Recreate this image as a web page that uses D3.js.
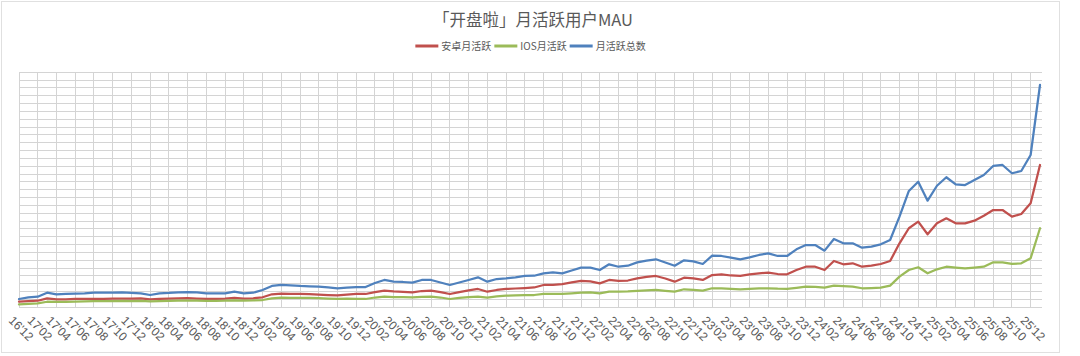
<!DOCTYPE html>
<html><head><meta charset="utf-8">
<script src="https://cdn.jsdelivr.net/npm/d3@7"></script>
<style>body{margin:0;background:#fff}</style>
</head><body><svg id="c" width="1080" height="356"></svg>
<script>
const categories = ["16'12",
"17'01","17'02","17'03","17'04","17'05","17'06","17'07","17'08","17'09","17'10","17'11","17'12",
"18'01","18'02","18'03","18'04","18'05","18'06","18'07","18'08","18'09","18'10","18'11","18'12",
"19'01","19'02","19'03","19'04","19'05","19'06","19'07","19'08","19'09","19'10","19'11","19'12",
"20'01","20'02","20'03","20'04","20'05","20'06","20'07","20'08","20'09","20'10","20'11","20'12",
"21'01","21'02","21'03","21'04","21'05","21'06","21'07","21'08","21'09","21'10","21'11","21'12",
"22'01","22'02","22'03","22'04","22'05","22'06","22'07","22'08","22'09","22'10","22'11","22'12",
"23'01","23'02","23'03","23'04","23'05","23'06","23'07","23'08","23'09","23'10","23'11","23'12",
"24'01","24'02","24'03","24'04","24'05","24'06","24'07","24'08","24'09","24'10","24'11","24'12",
"25'01","25'02","25'03","25'04","25'05","25'06","25'07","25'08","25'09","25'10","25'11","25'12",
"26'01"];

const tickLabels = ["16'12","17'02","17'04","17'06","17'08","17'10","17'12","18'02","18'04","18'06","18'08","18'10","18'12",
"19'02","19'04","19'06","19'08","19'10","19'12","20'02","20'04","20'06","20'08","20'10","20'12",
"21'02","21'04","21'06","21'08","21'10","21'12","22'02","22'04","22'06","22'08","22'10","22'12",
"23'02","23'04","23'06","23'08","23'10","23'12","24'02","24'04","24'06","24'08","24'10","24'12",
"25'02","25'04","25'06","25'08","25'10","25'12"];

const android = [7.1,
8.0,8.4,11.5,10.2,10.2,10.6,10.6,10.6,10.9,11.0,11.2,11.0,
11.5,10.2,10.9,11.2,11.5,11.6,11.2,10.6,10.9,11.0,11.9,11.0,
11.5,12.8,16.6,17.4,17.2,17.0,16.7,16.3,15.7,15.3,16.3,17.0,
17.0,19.5,21.2,20.2,19.8,19.1,20.8,21.2,19.5,17.0,19.5,21.7,
23.4,19.9,22.1,23.4,24.0,24.6,25.3,28.5,28.5,29.7,31.7,33.6,
33.2,30.6,34.9,33.6,34.2,36.8,38.7,40.0,36.8,32.7,37.8,37.0,
34.9,41.2,42.1,40.6,40.0,41.9,43.4,44.2,42.5,42.1,47.6,51.8,
51.8,47.6,59.1,54.9,56.2,51.8,53.1,55.3,59.1,81.7,100.9,109.3,
93.2,107.2,113.6,107.2,107.2,110.6,116.9,124.2,124.2,115.7,119.1,132.8,
181.7];

const ios = [3.8,
4.5,5.1,7.1,6.8,7.0,7.4,7.7,8.0,8.0,8.0,8.2,8.0,
8.3,7.7,8.0,8.3,8.4,8.6,8.4,8.2,8.3,8.4,8.8,8.4,
8.7,9.3,11.5,12.3,12.1,11.9,11.9,11.6,11.2,10.9,11.2,10.6,
10.6,12.5,13.5,13.1,12.9,12.8,13.4,13.5,12.5,10.6,11.9,13.1,
13.5,12.5,13.8,14.8,15.1,15.4,15.7,17.0,17.0,17.2,17.9,18.6,
18.9,17.9,19.9,19.9,20.2,21.1,21.7,22.1,21.1,19.9,23.0,22.3,
21.2,24.3,24.3,23.6,23.0,23.6,24.3,24.3,23.7,23.4,24.9,26.3,
26.2,25.0,27.6,26.9,26.3,24.3,24.6,25.0,27.6,39.1,47.6,51.1,
43.4,48.5,51.8,50.8,49.8,50.8,51.8,57.4,57.4,55.3,56.2,62.6,
100.9];

const total = [10.6,
12.8,13.5,18.6,16.6,17.0,17.6,17.9,18.6,18.6,18.6,18.9,18.3,
17.9,15.7,17.9,18.3,19.1,19.5,19.1,17.9,17.9,17.9,19.9,17.9,
18.6,22.1,27.2,28.5,28.1,27.2,26.8,26.3,25.3,24.3,25.0,25.9,
25.9,31.0,34.9,32.7,32.3,31.4,34.9,34.9,31.7,28.5,31.7,34.9,
38.3,32.7,36.1,37.0,38.3,40.0,40.3,43.4,44.7,43.4,47.0,50.6,
50.6,47.6,54.9,51.8,53.1,57.4,59.5,61.3,57.2,53.1,60.0,58.7,
55.3,65.9,65.5,63.3,61.3,63.8,66.8,68.9,65.5,65.5,74.0,79.5,
79.5,72.3,87.2,81.7,81.7,76.1,77.4,80.4,85.9,115.7,148.5,160.3,
136.1,155.2,166.0,157.0,156.1,162.5,168.9,180.4,181.7,171.1,174.0,194.4,
283.8];

const seriesNames = ["安卓月活跃", "IOS月活跃", "月活跃总数"];
const seriesColors = ["#C0504D", "#9BBB59", "#4F81BD"];
const seriesValues = [android, ios, total];
const title = "「开盘啦」月活跃用户MAU";

const svg = d3.select("#c");
const font = "'Noto Sans CJK SC', 'Noto Sans', sans-serif";
const textColor = "#595959";

// outer frame
svg.append("rect").attr("x", 1.5).attr("y", 1.5).attr("width", 1058).attr("height", 351)
  .attr("fill", "none").attr("stroke", "#e0e0e0").attr("stroke-width", 1);

const plotLeft = 19, plotRight = 1042, lastX = 1040, plotTop = 72.3, plotBottom = 307.3;
const x = d3.scalePoint().domain(categories).range([plotLeft, lastX]);
const y = d3.scaleLinear().domain([0, 300]).range([plotBottom, plotTop]);

const grid = svg.append("g").attr("stroke", "#d4d4d4").attr("stroke-width", 1).attr("shape-rendering", "crispEdges");
grid.selectAll("line.h").data(y.ticks(30)).join("line").attr("class", "h")
  .attr("x1", plotLeft).attr("x2", plotRight)
  .attr("y1", d => y(d)).attr("y2", d => y(d));
grid.selectAll("line.v").data(tickLabels).join("line").attr("class", "v")
  .attr("x1", d => x(d)).attr("x2", d => x(d))
  .attr("y1", plotTop).attr("y2", plotBottom);

// x axis labels
svg.append("g").selectAll("text").data(tickLabels).join("text")
  .attr("transform", d => `translate(${x(d) - 5},${plotBottom + 8}) rotate(45)`)
  .attr("dy", "0.7em")
  .attr("font-family", "'Liberation Sans', Arial, sans-serif")
  .attr("font-size", 12).attr("fill", textColor)
  .text(d => d);

// lines
const line = d3.line().x((d, i) => x(categories[i])).y(d => y(d));
svg.append("g").selectAll("path").data(seriesValues).join("path")
  .attr("d", d => line(d))
  .attr("fill", "none")
  .attr("stroke", (d, i) => seriesColors[i])
  .attr("stroke-width", 2.25)
  .attr("stroke-linejoin", "round").attr("stroke-linecap", "round");

// title
svg.append("text").attr("x", 533).attr("y", 26).attr("text-anchor", "middle")
  .attr("font-family", font).attr("font-size", 16.5).attr("fill", textColor).text(title);

// legend
const lg = svg.append("g");
let cx = 0;
seriesNames.forEach((name, i) => {
  const g = lg.append("g");
  g.append("line").attr("x1", cx).attr("x2", cx + 23).attr("y1", 46).attr("y2", 46)
    .attr("stroke", seriesColors[i]).attr("stroke-width", 3);
  const t = g.append("text").attr("x", cx + 26).attr("y", 49.5)
    .attr("font-family", font).attr("font-size", 10).attr("fill", textColor).text(name);
  cx += 26 + t.node().getComputedTextLength() + 3;
});
const legendWidth = cx - 3;
lg.attr("transform", `translate(${530.5 - legendWidth / 2},0)`);
</script>
</body></html>
